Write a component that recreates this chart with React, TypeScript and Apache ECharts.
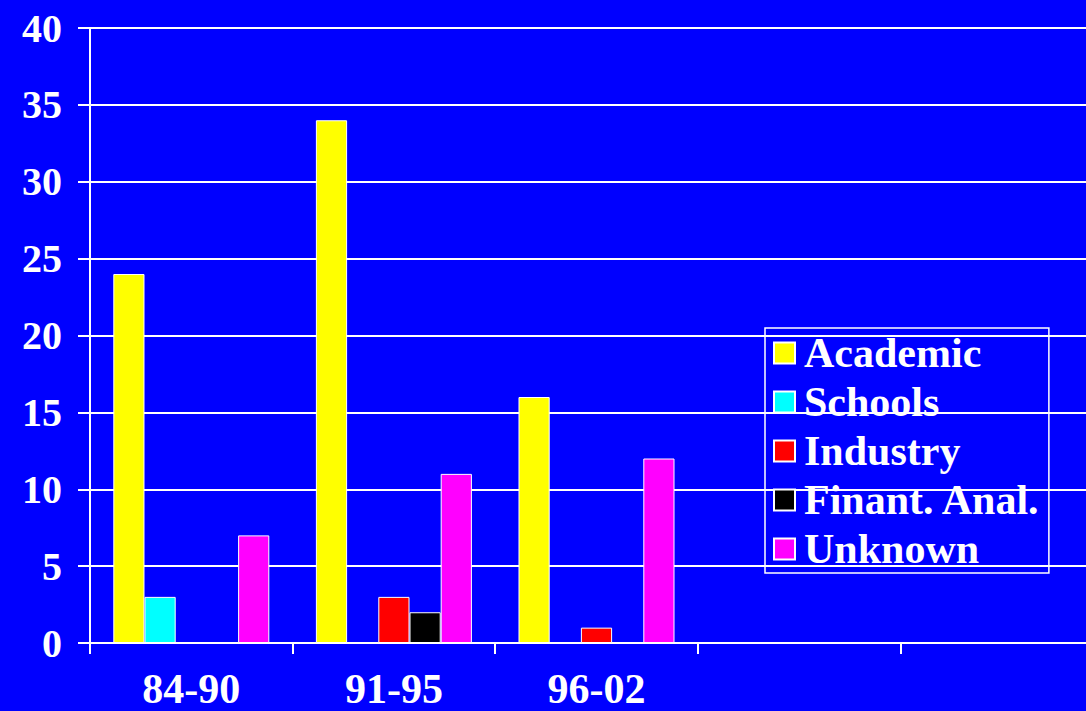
import React, { useEffect, useRef } from "react";
import * as echarts from "echarts";

// Period categories (the last two slots are empty on the axis)
const periods = ["84-90", "91-95", "96-02", "", ""];

// Counts per destination
const academic = [24, 34, 16, null, null];
const schools = [3, 0, 0, null, null];
const industry = [0, 3, 1, null, null];
const finantAnal = [0, 2, 0, null, null];
const unknown = [7, 11, 12, null, null];

const yTicks = { min: 0, max: 40, interval: 5 };

const FONT = "'Liberation Serif', 'Times New Roman', serif";

export default function App() {
  const ref = useRef<HTMLDivElement>(null);

  useEffect(() => {
    if (!ref.current) return;
    const chart = echarts.init(ref.current, undefined, { renderer: "svg" });

    const mk = (name: string, data: (number | null)[], color: string) => ({
      name,
      type: "bar",
      data,
      barGap: "0%",
      barCategoryGap: "23%",
      itemStyle: { color, borderColor: "#ffffff", borderWidth: 1 },
    });

    chart.setOption({
      animation: false,
      backgroundColor: "#0000ff",
      grid: { left: 90, top: 28, bottom: 68, right: 0, containLabel: false },
      legend: {
        orient: "vertical",
        left: 765,
        top: 328,
        padding: [4, 8, 3, 8],
        itemGap: 7,
        itemWidth: 21,
        itemHeight: 21,
        icon: "rect",
        borderColor: "#ffffff",
        borderWidth: 1.5,
        textStyle: {
          color: "#ffffff",
          fontFamily: FONT,
          fontWeight: "bold",
          fontSize: 42,
          lineHeight: 40,
          padding: [0, 0, 0, 4],
        },
        data: ["Academic", "Schools", "Industry", "Finant. Anal.", "Unknown"],
      },
      xAxis: {
        type: "category",
        data: periods,
        axisLine: { lineStyle: { color: "#ffffff", width: 2 } },
        axisTick: { show: true, length: 11, lineStyle: { color: "#ffffff", width: 2 } },
        axisLabel: {
          color: "#ffffff",
          fontFamily: FONT,
          fontWeight: "bold",
          fontSize: 42,
          margin: 25,
        },
        splitLine: { show: false },
      },
      yAxis: {
        type: "value",
        min: yTicks.min,
        max: yTicks.max,
        interval: yTicks.interval,
        axisLine: { show: true, lineStyle: { color: "#ffffff", width: 2 } },
        axisTick: { show: true, length: 12, lineStyle: { color: "#ffffff", width: 2 } },
        axisLabel: {
          color: "#ffffff",
          fontFamily: FONT,
          fontWeight: "bold",
          fontSize: 40,
          margin: 28,
        },
        splitLine: { show: true, lineStyle: { color: "#ffffff", width: 2 } },
      },
      series: [
        mk("Academic", academic, "#ffff00"),
        mk("Schools", schools, "#00ffff"),
        mk("Industry", industry, "#ff0000"),
        mk("Finant. Anal.", finantAnal, "#000000"),
        mk("Unknown", unknown, "#ff00ff"),
      ],
    });

    return () => chart.dispose();
  }, []);

  // The plot runs on past the right edge of the visible frame, so the chart
  // canvas is wider than the clipped viewport that holds it.
  return (
    <div
      style={{
        position: "fixed",
        left: 0,
        top: 0,
        width: 1086,
        height: 711,
        overflow: "hidden",
      }}
    >
      <div ref={ref} style={{ width: 1103, height: 711 }} />
    </div>
  );
}
